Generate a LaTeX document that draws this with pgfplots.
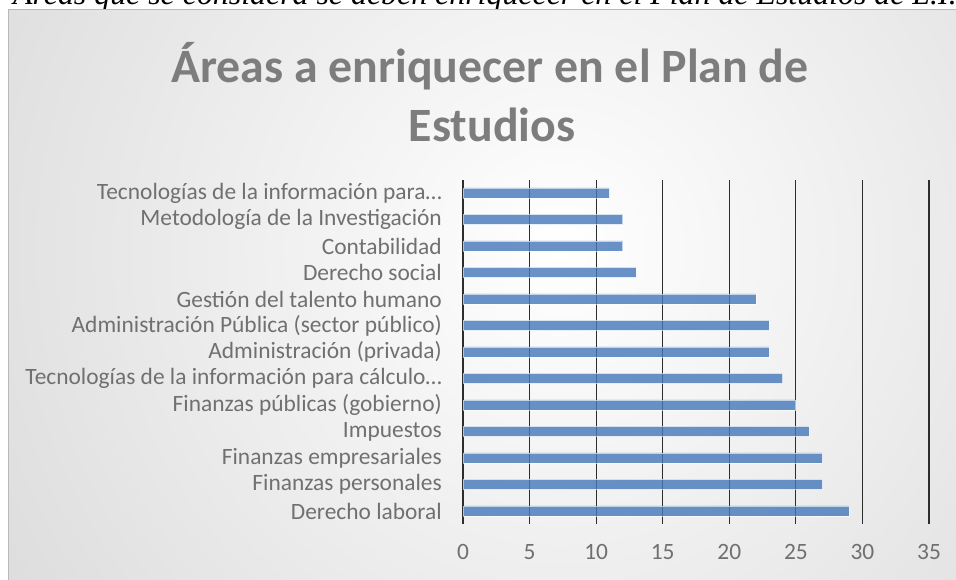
\documentclass[border=0pt]{standalone}
\usepackage{pgfplots}
\pgfplotsset{compat=1.18}
\usepackage{fontspec}
\setmainfont{Carlito}
\newfontfamily\capfont{Liberation Serif}
\definecolor{barc}{RGB}{68,120,186}
\definecolor{txt}{RGB}{112,112,112}
\definecolor{ttl}{RGB}{125,125,125}
\definecolor{gridc}{RGB}{45,45,45}
\definecolor{bgout}{RGB}{192,192,192}
\begin{document}
\begin{tikzpicture}[x=1bp,y=1bp]
\useasboundingbox (0,0) rectangle (956,580);
\clip (0,0) rectangle (956,580);
\fill[white] (0,0) rectangle (956,580);
\node[anchor=base west, inner sep=0pt, font=\capfont\itshape\fontsize{32}{32}\selectfont] at (13,575) {Áreas que se considera se deben enriquecer en el Plan de Estudios de L.I.};
\begin{scope}
\clip (8,0) rectangle (960,570);
\shade[inner color=white, outer color=bgout] (-640,-870) rectangle (1760,1530);
\end{scope}
\draw[color=gray!55, line width=1bp] (8,0) -- (8,570) -- (960,570);
\node[anchor=base, inner sep=0pt, font=\bfseries\fontsize{48}{48}\selectfont, color=ttl] at (490,497) {Áreas a enriquecer en el Plan de};
\node[anchor=base, inner sep=0pt, font=\bfseries\fontsize{48}{48}\selectfont, color=ttl] at (492,438) {Estudios};
\begin{axis}[
  at={(463bp,55.75bp)}, anchor=south west, scale only axis,
  width=466bp, height=344.5bp,
  xmin=0, xmax=35, ymin=-0.5, ymax=12.5,
  axis line style={draw=none},
  xmajorgrids, grid style={gridc, line width=1.2bp},
  xtick={0,5,...,35}, ytick={0,...,12},
  major tick length=0pt,
  tick style={draw=none},
  /pgf/number format/assume math mode=true,
  yticklabels={Derecho laboral, Finanzas personales, Finanzas empresariales, Impuestos, Finanzas públicas (gobierno), Tecnologías de la información para cálculo…, Administración (privada), Administración Pública (sector público), Gestión del talento humano, Derecho social, Contabilidad, Metodología de la Investigación, Tecnologías de la información para…},
  yticklabel style={font=\fontsize{23.5}{23.5}\selectfont, color=txt, anchor=east, inner sep=0pt, xshift=-21bp},
  xticklabel style={font=\fontsize{23.5}{23.5}\selectfont, color=txt, anchor=north, inner sep=0pt, yshift=-20bp},
]
\addplot[xbar, bar width=10bp, fill=barc, fill opacity=0.8, draw=white, draw opacity=0.6, line width=0.8bp]
  coordinates {(29,0) (27,1) (27,2) (26,3) (25,4) (24,5) (23,6) (23,7) (22,8) (13,9) (12,10) (12,11) (11,12)};
\end{axis}
\end{tikzpicture}
\end{document}
